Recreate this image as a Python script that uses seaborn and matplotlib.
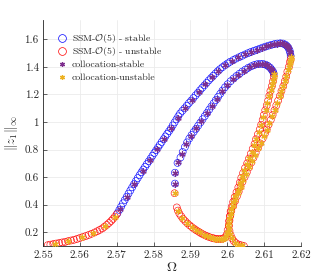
import numpy as np
import matplotlib
matplotlib.use("Agg")
import matplotlib.pyplot as plt
import seaborn as sns
from matplotlib.lines import Line2D
from matplotlib.ticker import FuncFormatter

# ---------------- data ----------------
# SSM-O(5) stable, outer branch
ssm_stable_outer_x = [2.5702, 2.5707, 2.5712, 2.5717, 2.5722, 2.5727, 2.5732, 2.5737, 2.5742, 2.5747,
                      2.5752, 2.5757, 2.5762, 2.5767, 2.5772, 2.5777, 2.5782, 2.5787, 2.5792, 2.5797,
                      2.5802, 2.5807, 2.5812, 2.5817, 2.5822, 2.5827, 2.5832, 2.5837, 2.5842, 2.5847,
                      2.5852, 2.5857, 2.5862, 2.5867, 2.5872, 2.5878, 2.5884, 2.5890, 2.5896, 2.5902,
                      2.5908, 2.5914, 2.5920, 2.5926, 2.5932, 2.5938, 2.5944, 2.5950, 2.5956, 2.5962,
                      2.5968, 2.5974, 2.5980, 2.5987, 2.5994, 2.6001, 2.6008, 2.6016, 2.6024, 2.6032,
                      2.6040, 2.6048, 2.6056, 2.6064, 2.6072, 2.6080, 2.6088, 2.6096, 2.6104, 2.6112,
                      2.6120, 2.6128, 2.6136, 2.6144, 2.6151, 2.6157, 2.6162, 2.6166, 2.6169, 2.6171,
                      2.6172]
ssm_stable_outer_y = [0.338, 0.362, 0.386, 0.410, 0.434, 0.457, 0.480, 0.503, 0.526, 0.549,
                      0.571, 0.593, 0.614, 0.635, 0.655, 0.675, 0.695, 0.715, 0.735, 0.755,
                      0.775, 0.795, 0.815, 0.835, 0.855, 0.875, 0.895, 0.914, 0.933, 0.953,
                      0.975, 0.997, 1.019, 1.041, 1.062, 1.081, 1.099, 1.118, 1.137, 1.155,
                      1.174, 1.193, 1.211, 1.230, 1.248, 1.266, 1.284, 1.302, 1.319, 1.336,
                      1.352, 1.368, 1.383, 1.398, 1.412, 1.425, 1.437, 1.449, 1.460, 1.470,
                      1.480, 1.490, 1.499, 1.508, 1.516, 1.524, 1.532, 1.540, 1.547, 1.554,
                      1.560, 1.565, 1.569, 1.571, 1.569, 1.562, 1.551, 1.537, 1.519, 1.500,
                      1.480]
# SSM-O(5) stable, inner branch
ssm_stable_inner_x = [2.5858, 2.5858, 2.5865, 2.5873, 2.5879, 2.5885, 2.5891, 2.5897, 2.5903, 2.5909,
                      2.5915, 2.5921, 2.5927, 2.5933, 2.5939, 2.5945, 2.5951, 2.5957, 2.5963, 2.5969,
                      2.5975, 2.5981, 2.5987, 2.5994, 2.6001, 2.6009, 2.6017, 2.6025, 2.6033, 2.6041,
                      2.6049, 2.6057, 2.6065, 2.6073, 2.6081, 2.6089, 2.6097, 2.6104, 2.6110, 2.6116,
                      2.6120, 2.6124, 2.6126]
ssm_stable_inner_y = [0.553, 0.632, 0.703, 0.742, 0.782, 0.818, 0.852, 0.880, 0.905, 0.928,
                      0.950, 0.973, 0.996, 1.020, 1.043, 1.066, 1.090, 1.113, 1.136, 1.159,
                      1.182, 1.205, 1.228, 1.252, 1.274, 1.296, 1.316, 1.334, 1.350, 1.366,
                      1.380, 1.393, 1.404, 1.413, 1.419, 1.422, 1.421, 1.416, 1.407, 1.395,
                      1.381, 1.366, 1.350]

# SSM-O(5) unstable
ssm_unstable_low_x = [2.5513, 2.5520, 2.5528, 2.5536, 2.5544, 2.5552, 2.5560, 2.5568, 2.5576, 2.5584,
                      2.5592, 2.5600, 2.5608, 2.5616, 2.5624, 2.5632, 2.5640, 2.5647, 2.5654, 2.5661,
                      2.5667, 2.5673, 2.5679, 2.5685, 2.5690, 2.5695, 2.5700]
ssm_unstable_low_y = [0.106, 0.110, 0.114, 0.118, 0.122, 0.126, 0.130, 0.135, 0.140, 0.145,
                      0.151, 0.158, 0.165, 0.172, 0.180, 0.189, 0.198, 0.207, 0.217, 0.228,
                      0.240, 0.253, 0.267, 0.282, 0.297, 0.313, 0.330]
ssm_unstable_outer_x = [2.6172, 2.6170, 2.6167, 2.6163, 2.6160, 2.6156, 2.6152, 2.6147, 2.6143, 2.6138,
                        2.6133, 2.6128, 2.6123, 2.6118, 2.6112, 2.6107, 2.6102, 2.6096, 2.6089, 2.6083,
                        2.6077, 2.6071, 2.6065, 2.6059, 2.6053, 2.6047, 2.6041, 2.6036, 2.6031, 2.6026,
                        2.6021, 2.6016, 2.6011, 2.6008, 2.6006, 2.6004, 2.6001, 2.5999]
ssm_unstable_outer_y = [1.455, 1.435, 1.400, 1.365, 1.330, 1.295, 1.260, 1.225, 1.190, 1.155,
                        1.120, 1.085, 1.050, 1.015, 0.980, 0.945, 0.915, 0.880, 0.845, 0.810,
                        0.775, 0.740, 0.705, 0.670, 0.635, 0.600, 0.565, 0.530, 0.495, 0.460,
                        0.425, 0.390, 0.355, 0.320, 0.285, 0.250, 0.215, 0.185]
ssm_unstable_inner_x = [2.6126, 2.6124, 2.6121, 2.6117, 2.6114, 2.6111, 2.6107, 2.6103, 2.6099, 2.6096,
                        2.6092, 2.6088, 2.6083, 2.6078, 2.6074, 2.6069, 2.6064, 2.6059, 2.6054, 2.6048,
                        2.6043, 2.6038, 2.6034, 2.6030, 2.6025, 2.6020, 2.6016, 2.6012, 2.6009, 2.6007,
                        2.6005, 2.6004, 2.6006, 2.6009, 2.6013, 2.6018, 2.6024, 2.6031, 2.6038, 2.6045]
ssm_unstable_inner_y = [1.330, 1.295, 1.260, 1.225, 1.190, 1.155, 1.120, 1.085, 1.050, 1.015,
                        0.980, 0.945, 0.910, 0.875, 0.840, 0.805, 0.770, 0.735, 0.700, 0.665,
                        0.630, 0.595, 0.560, 0.525, 0.490, 0.455, 0.420, 0.385, 0.350, 0.315,
                        0.280, 0.245, 0.210, 0.180, 0.155, 0.135, 0.120, 0.110, 0.105, 0.100]
ssm_unstable_bottom_x = [2.5994, 2.5988, 2.5982, 2.5976, 2.5970, 2.5964, 2.5958, 2.5952, 2.5946, 2.5940,
                         2.5934, 2.5928, 2.5922, 2.5916, 2.5910, 2.5904, 2.5898, 2.5892, 2.5886, 2.5880,
                         2.5875, 2.5870, 2.5866, 2.5863, 2.5857]
ssm_unstable_bottom_y = [0.163, 0.154, 0.150, 0.150, 0.152, 0.155, 0.159, 0.164, 0.170, 0.177,
                         0.185, 0.194, 0.204, 0.214, 0.225, 0.237, 0.250, 0.264, 0.280, 0.297,
                         0.315, 0.335, 0.357, 0.380, 0.483]

# collocation stable
coll_stable_outer_x = [2.5708, 2.5727, 2.5748, 2.5770, 2.5790, 2.5809, 2.5828, 2.5847, 2.5865, 2.5884,
                       2.5903, 2.5922, 2.5940, 2.5958, 2.5976, 2.5994, 2.6012, 2.6030, 2.6048, 2.6064,
                       2.6080, 2.6094, 2.6106, 2.6117, 2.6127, 2.6136, 2.6143, 2.6149, 2.6154, 2.6158,
                       2.6162, 2.6165, 2.6168, 2.6170, 2.6171]
coll_stable_outer_y = [0.367, 0.457, 0.553, 0.647, 0.727, 0.803, 0.879, 0.953, 1.032, 1.099,
                       1.158, 1.217, 1.272, 1.325, 1.373, 1.412, 1.443, 1.468, 1.490, 1.508,
                       1.524, 1.538, 1.549, 1.558, 1.565, 1.569, 1.571, 1.570, 1.566, 1.560,
                       1.551, 1.541, 1.526, 1.510, 1.495]
coll_stable_inner_x = [2.5858, 2.5858, 2.5866, 2.5877, 2.5889, 2.5902, 2.5916, 2.5930, 2.5944, 2.5958,
                       2.5972, 2.5986, 2.6000, 2.6015, 2.6030, 2.6045, 2.6059, 2.6072, 2.6083, 2.6093,
                       2.6101, 2.6108, 2.6114, 2.6118, 2.6122, 2.6125]
coll_stable_inner_y = [0.553, 0.632, 0.706, 0.769, 0.841, 0.901, 0.954, 1.008, 1.062, 1.117,
                       1.170, 1.224, 1.271, 1.311, 1.344, 1.373, 1.396, 1.412, 1.420, 1.422,
                       1.419, 1.410, 1.399, 1.388, 1.374, 1.358]

# collocation unstable
coll_unstable_low_x = [2.5532, 2.5568, 2.5605, 2.5636, 2.5668, 2.5695]
coll_unstable_low_y = [0.117, 0.135, 0.162, 0.193, 0.242, 0.313]
coll_unstable_outer_x = [2.6172, 2.6172, 2.6171, 2.6169, 2.6167, 2.6164, 2.6160, 2.6156, 2.6152, 2.6147,
                         2.6142, 2.6136, 2.6129, 2.6122, 2.6114, 2.6107, 2.6099, 2.6091, 2.6083, 2.6075,
                         2.6067, 2.6059, 2.6051, 2.6043, 2.6036, 2.6029, 2.6022, 2.6016, 2.6010, 2.6006,
                         2.6003, 2.6000]
coll_unstable_outer_y = [1.475, 1.460, 1.445, 1.425, 1.400, 1.375, 1.335, 1.295, 1.260, 1.225,
                         1.185, 1.140, 1.090, 1.040, 0.990, 0.945, 0.895, 0.850, 0.810, 0.760,
                         0.715, 0.670, 0.625, 0.580, 0.530, 0.485, 0.435, 0.390, 0.340, 0.295,
                         0.250, 0.205]
coll_unstable_inner_x = [2.6127, 2.6126, 2.6124, 2.6121, 2.6118, 2.6114, 2.6109, 2.6104, 2.6098, 2.6092,
                         2.6085, 2.6079, 2.6073, 2.6066, 2.6060, 2.6053, 2.6046, 2.6040, 2.6034, 2.6028,
                         2.6022, 2.6016, 2.6011, 2.6007, 2.6005, 2.6005, 2.6008, 2.6013, 2.6020, 2.6030,
                         2.6040]
coll_unstable_inner_y = [1.345, 1.325, 1.300, 1.270, 1.235, 1.190, 1.140, 1.090, 1.035, 0.980,
                         0.925, 0.875, 0.830, 0.785, 0.740, 0.695, 0.650, 0.610, 0.560, 0.510,
                         0.460, 0.420, 0.370, 0.320, 0.270, 0.225, 0.185, 0.155, 0.125, 0.110,
                         0.105]
coll_unstable_bottom_x = [2.5997, 2.5993, 2.5988, 2.5983, 2.5978, 2.5972, 2.5966, 2.5960, 2.5953, 2.5945,
                          2.5936, 2.5926, 2.5915, 2.5903, 2.5890, 2.5878, 2.5867, 2.5857]
coll_unstable_bottom_y = [0.172, 0.160, 0.154, 0.151, 0.150, 0.151, 0.154, 0.158, 0.163, 0.171,
                          0.183, 0.199, 0.216, 0.239, 0.268, 0.305, 0.355, 0.483]

legend_labels = [r"SSM-$\mathcal{O}(5)$ - stable", r"SSM-$\mathcal{O}(5)$ - unstable",
                 "collocation-stable", "collocation-unstable"]
x_ticks = [2.55, 2.56, 2.57, 2.58, 2.59, 2.60, 2.61, 2.62]
y_ticks = [0.2, 0.4, 0.6, 0.8, 1.0, 1.2, 1.4, 1.6]

# ---------------- assemble ----------------
ssm_stable_x = np.array(ssm_stable_outer_x + ssm_stable_inner_x)
ssm_stable_y = np.array(ssm_stable_outer_y + ssm_stable_inner_y)
ssm_unstable_x = np.array(ssm_unstable_low_x + ssm_unstable_outer_x + ssm_unstable_inner_x + ssm_unstable_bottom_x)
ssm_unstable_y = np.array(ssm_unstable_low_y + ssm_unstable_outer_y + ssm_unstable_inner_y + ssm_unstable_bottom_y)
coll_stable_x = np.array(coll_stable_outer_x + coll_stable_inner_x)
coll_stable_y = np.array(coll_stable_outer_y + coll_stable_inner_y)
coll_unstable_x = np.array(coll_unstable_low_x + coll_unstable_outer_x + coll_unstable_inner_x + coll_unstable_bottom_x)
coll_unstable_y = np.array(coll_unstable_low_y + coll_unstable_outer_y + coll_unstable_inner_y + coll_unstable_bottom_y)

# ---------------- style ----------------
sns.set_theme(style="whitegrid")
plt.rcParams.update({
    "font.family": "serif",
    "font.serif": ["cmr10", "DejaVu Serif"],
    "mathtext.fontset": "cm",
    "axes.formatter.use_mathtext": True,
    "axes.unicode_minus": False,
})

BLUE = "#0000ff"
RED = "#ff0000"
PURPLE = "#7E2F8E"
ORANGE = "#EDB120"
AX = "#262626"

W, H = 332, 277
fig = plt.figure(figsize=(W / 100, H / 100), dpi=100)
fig.patch.set_facecolor("white")
ax = fig.add_axes([0.1295, 0.1119, 0.7771, 0.8159])
ax.set_facecolor("white")

circ_s = 25
star_s = 15
ast = (6, 2, 0)

sns.scatterplot(x=ssm_stable_x, y=ssm_stable_y, ax=ax, marker="o", s=circ_s, color=BLUE,
                facecolor="none", edgecolor=BLUE, linewidth=0.42, legend=False, zorder=3)
sns.scatterplot(x=ssm_unstable_x, y=ssm_unstable_y, ax=ax, marker="o", s=circ_s, color=RED,
                facecolor="none", edgecolor=RED, linewidth=0.42, legend=False, zorder=3)
sns.scatterplot(x=coll_stable_x, y=coll_stable_y, ax=ax, marker=ast, s=star_s, color=PURPLE,
                edgecolor=PURPLE, linewidth=0.9, legend=False, zorder=4)
sns.scatterplot(x=coll_unstable_x, y=coll_unstable_y, ax=ax, marker=ast, s=star_s, color=ORANGE,
                edgecolor=ORANGE, linewidth=0.9, legend=False, zorder=4)

ax.set_xlim(2.55, 2.62)
ax.set_ylim(0.1, 1.74)
ax.set_xticks(x_ticks)
ax.set_yticks(y_ticks)
fmt = FuncFormatter(lambda v, p: "%g" % round(v, 4))
ax.xaxis.set_major_formatter(fmt)
ax.yaxis.set_major_formatter(fmt)

ax.grid(True, color="#ebebeb", linewidth=0.6)
ax.set_axisbelow(True)
for s in ["top", "right"]:
    ax.spines[s].set_visible(False)
for s in ["left", "bottom"]:
    ax.spines[s].set_color(AX)
    ax.spines[s].set_linewidth(0.6)
ax.tick_params(direction="in", length=3, width=0.5, colors=AX, labelsize=8, pad=3,
               bottom=True, left=True)

ax.set_xlabel(r"$\Omega$", fontsize=10, labelpad=1, color=AX)
ax.set_ylabel(r"$\|z_1\|_\infty$", fontsize=9.5, labelpad=3, color=AX)

# legend drawn row by row (evenly spaced like the reference)
handle_styles = [
    dict(marker="o", ms=5.6, mfc="none", mec=BLUE, mew=0.5),
    dict(marker="o", ms=5.6, mfc="none", mec=RED, mew=0.5),
    dict(marker=ast, ms=3.6, mec=PURPLE, mew=0.9),
    dict(marker=ast, ms=3.6, mec=ORANGE, mew=0.9),
]
row_px = [38, 51, 64, 77]
marker_px_x = 62
text_px_x = 72
for lab, sty, py in zip(legend_labels, handle_styles, row_px):
    yf = 1 - py / H
    fig.add_artist(Line2D([marker_px_x / W], [yf], transform=fig.transFigure, ls="none", **sty))
    fig.text(text_px_x / W, 1 - (py + 3.2) / H, lab, fontsize=7.0, color=AX,
             ha="left", va="baseline")

fig.savefig("out.png", dpi=100, facecolor="white")
